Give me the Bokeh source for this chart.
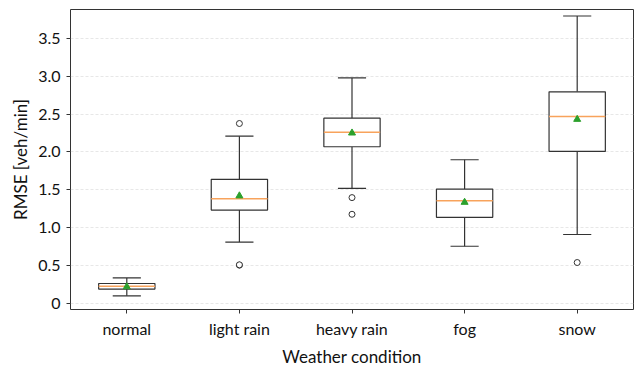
from bokeh.plotting import figure
from bokeh.models import Range1d, FixedTicker
from bokeh.embed import file_html
from bokeh.resources import INLINE

categories = ["normal", "light rain", "heavy rain", "fog", "snow"]
whisker_low = [0.10, 0.81, 1.52, 0.755, 0.91]
q1 = [0.19, 1.233, 2.068, 1.137, 2.007]
median = [0.228, 1.383, 2.261, 1.357, 2.468]
q3 = [0.263, 1.638, 2.446, 1.51, 2.793]
whisker_high = [0.337, 2.208, 2.977, 1.897, 3.794]
mean = [0.22, 1.42, 2.25, 1.335, 2.43]
outlier_cat = [2, 2, 2, 3, 3, 5]
outlier_val = [2.375, 0.505, 0.51, 1.397, 1.177, 0.54]
y_ticks = [0, 0.5, 1.0, 1.5, 2.0, 2.5, 3.0, 3.5]
y_tick_labels = ["0", "0.5", "1.0", "1.5", "2.0", "2.5", "3.0", "3.5"]

FONT = "Lato"
EDGE = "#333333"

pos = list(range(1, len(categories) + 1))
half = 0.25
cap = 0.125

p = figure(width=640, height=374, output_backend="svg", toolbar_location=None,
           x_range=Range1d(0.5, 5.5), y_range=Range1d(-0.08, 3.88),
           min_border_left=70, min_border_right=7, min_border_top=9, min_border_bottom=65)
p.background_fill_color = "white"
p.border_fill_color = "white"
p.outline_line_color = EDGE
p.outline_line_width = 1

# grid
p.xgrid.grid_line_color = None
p.ygrid.grid_line_color = "#dddddd"
p.ygrid.grid_line_dash = "3 2"
p.ygrid.grid_line_width = 0.7

# whiskers
p.segment(x0=pos, y0=whisker_low, x1=pos, y1=q1, line_color=EDGE, line_width=1.2)
p.segment(x0=pos, y0=q3, x1=pos, y1=whisker_high, line_color=EDGE, line_width=1.2)
p.segment(x0=[x - cap for x in pos], y0=whisker_low, x1=[x + cap for x in pos], y1=whisker_low,
          line_color=EDGE, line_width=1.2)
p.segment(x0=[x - cap for x in pos], y0=whisker_high, x1=[x + cap for x in pos], y1=whisker_high,
          line_color=EDGE, line_width=1.2)
# boxes
p.quad(left=[x - half for x in pos], right=[x + half for x in pos], bottom=q1, top=q3,
       fill_color="white", line_color=EDGE, line_width=1.2)
# medians
p.segment(x0=[x - half for x in pos], y0=median, x1=[x + half for x in pos], y1=median,
          line_color="#f8a35c", line_width=1.5)
# means
p.scatter(x=pos, y=mean, marker="triangle", size=7, fill_color="#2ca02c", line_color="#2ca02c")
# outliers
p.scatter(x=outlier_cat, y=outlier_val, marker="circle", size=6, fill_color="white",
          line_color=EDGE, line_width=1)

# axes
p.xaxis.ticker = FixedTicker(ticks=pos)
p.xaxis.major_label_overrides = {x: c for x, c in zip(pos, categories)}
p.yaxis.ticker = FixedTicker(ticks=y_ticks)
p.yaxis.major_label_overrides = {t: l for t, l in zip(y_ticks, y_tick_labels)}
for ax in (p.xaxis[0], p.yaxis[0]):
    ax.axis_line_color = None
    ax.major_tick_line_color = EDGE
    ax.major_tick_out = 4
    ax.major_tick_in = 0
    ax.minor_tick_line_color = None
    ax.major_label_text_font = FONT
    ax.major_label_text_font_size = "16px"
    ax.major_label_text_color = "#111111"
    ax.axis_label_text_font = FONT
    ax.axis_label_text_font_size = "17px"
    ax.axis_label_text_font_style = "normal"
    ax.axis_label_text_color = "#111111"
p.xaxis.axis_label = "Weather condition"
p.yaxis.axis_label = "RMSE [veh/min]"
p.xaxis.major_label_standoff = 5
p.xaxis.axis_label_standoff = 5
p.yaxis.major_label_standoff = 6
p.yaxis.axis_label_standoff = 4

open("out.html", "w").write(file_html(p, INLINE))
